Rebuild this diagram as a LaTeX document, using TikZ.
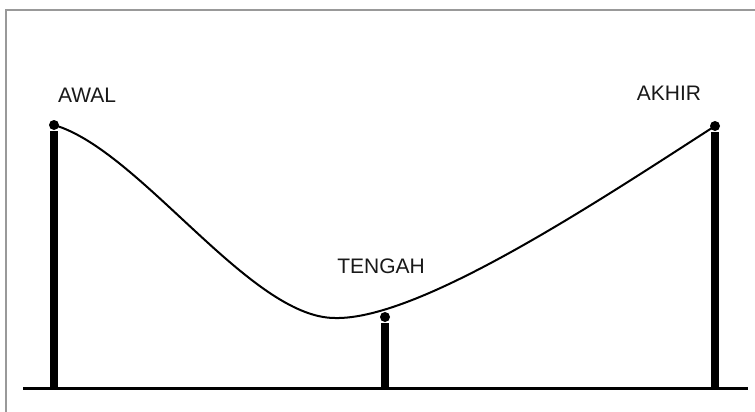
\documentclass[tikz,border=0pt]{standalone}
\usepackage{fontspec}
\setmainfont{Liberation Sans}
\begin{document}
\begin{tikzpicture}[x=1pt,y=-1pt,
  frame/.style={draw=black!40,line width=1.5},
  post/.style={line width=8},
  ground/.style={line width=3},
  cable/.style={line width=2},
  lbl/.style={font=\fontsize{21}{25}\selectfont,text=black!90}]
\useasboundingbox (0,0) rectangle (755,412);
\fill[white] (0,0) rectangle (755,412);
\draw[frame] (6,412) -- (6,10) -- (755,10);
% coordinates
\coordinate (awal) at (54,125);
\coordinate (tengah) at (385,317);
\coordinate (akhir) at (715,126);
\coordinate (low) at (335,318);
\coordinate (g1) at (23,388);
\coordinate (g2) at (748,388);
% ground
\draw[ground] (g1) -- (g2);
% posts
\draw[post] (54,131) -- (54,388);
\draw[post] (385,323) -- (385,388);
\draw[post] (715,132) -- (715,388);
\fill (awal) circle (5);
\fill (tengah) circle (5);
\fill (akhir) circle (5);
% cable
\draw[cable] (awal) .. controls (140,150) and (250,318) .. (low)
  .. controls (420,320) and (600,200) .. (akhir);
% labels
\node[lbl] (lawal) at (87,95) {AWAL};
\node[lbl] (lakhir) at (669,93) {AKHIR};
\node[lbl] (ltengah) at (381,266) {TENGAH};
\end{tikzpicture}
\end{document}
